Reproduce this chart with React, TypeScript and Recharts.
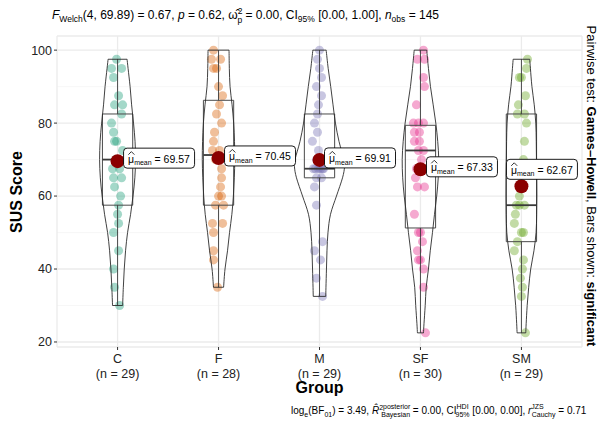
import { CartesianGrid, ComposedChart, Scatter, XAxis, YAxis } from "recharts";

const groups = ["C", "F", "M", "SF", "SM"];
const groupN = [29, 28, 29, 30, 29];
const groupColors = ["#1B9E77", "#D95F02", "#7570B3", "#E7298A", "#66A61E"];
const means = [69.57, 70.45, 69.91, 67.33, 62.67];
const yTicks = [20, 40, 60, 80, 100];
const yMinor = [30, 50, 70, 90];

// SUS scores per group
const scoresC = [97.5, 95, 95, 92.5, 87.5, 85, 85, 82.5, 80, 77.5, 75, 75, 72.5, 70, 70, 67.5, 67.5, 65, 65, 62.5, 60, 57.5, 55, 52.5, 50, 45, 40, 35, 30];
const scoresF = [100, 97.5, 97.5, 95, 95, 90, 87.5, 85, 82.5, 80, 77.5, 75, 72.5, 72.5, 70, 67.5, 65, 62.5, 60, 60, 57.5, 57.5, 52.5, 52.5, 50, 45, 42.5, 35];
const scoresM = [100, 97.5, 95, 92.5, 90, 87.5, 85, 82.5, 80, 77.5, 75, 72.5, 70, 70, 67.5, 67.5, 67.5, 67.5, 67.5, 67.5, 65, 65, 62.5, 57.5, 47.5, 45, 42.5, 37.5, 32.5];
const scoresSF = [100, 97.5, 97.5, 92.5, 90, 85, 80, 80, 80, 77.5, 77.5, 75, 75, 72.5, 72.5, 70, 67.5, 65, 62.5, 62.5, 55, 50, 50, 47.5, 45, 42.5, 42.5, 40, 35, 22.5];
const scoresSM = [97.5, 95, 92.5, 92.5, 87.5, 85, 82.5, 82.5, 80, 75, 70, 67.5, 62.5, 60, 57.5, 57.5, 57.5, 55, 52.5, 50, 50, 47.5, 45, 42.5, 40, 37.5, 35, 32.5, 22.5];

// horizontal jitter of each dot (category units)
const jitterC = [-0.01, -0.06, 0.04, -0.04, 0.01, -0.03, 0.05, 0.04, -0.06, -0.04, -0.03, -0.01, 0.05, 0, -0.02, 0.02, -0.05, -0.04, 0.04, -0.03, 0.03, 0.01, 0, 0.01, -0.04, 0.01, -0.04, -0.03, 0.02];
const jitterF = [-0.05, -0.07, 0.02, -0.05, -0.02, 0, 0.04, 0.01, -0.02, 0.03, -0.04, -0.05, -0.06, 0.01, -0.03, 0.03, 0.03, 0.02, 0, 0.03, -0.03, 0.05, -0.06, 0.04, -0.05, -0.05, -0.05, -0.01];
const jitterM = [0, -0.02, 0, 0.02, -0.03, 0.02, -0.01, -0.02, -0.05, -0.02, -0.07, -0.01, 0.02, -0.03, 0.03, -0.01, -0.04, 0.01, -0.06, 0.04, 0.02, -0.03, -0.05, -0.03, 0.03, -0.05, 0.01, -0.03, 0.03];
const jitterSF = [0.03, -0.03, 0.04, 0.03, 0.04, -0.04, -0.07, -0.02, 0.03, -0.06, -0.01, -0.06, -0.01, -0.02, 0.03, 0.01, -0.04, -0.05, 0.04, -0.03, -0.06, -0.02, 0, 0.02, -0.03, -0.02, 0, 0.03, 0.03, 0.05];
const jitterSM = [0.06, 0.05, -0.02, 0, 0.04, -0.03, -0.04, 0.03, 0.05, 0.03, 0.02, 0.02, 0, -0.02, -0.02, 0.03, -0.05, -0.06, -0.07, 0, 0.02, -0.04, -0.07, 0.02, 0.01, -0.01, 0.01, 0, 0.04];

// box stats: [lower whisker, q1, median, q3, upper whisker]
const boxC = [30, 57.5, 70, 82.5, 97.5];
const boxF = [35, 57.5, 71.25, 86.25, 100];
const boxM = [32.5, 65, 67.5, 82.5, 100];
const boxSF = [22.5, 51.25, 72.5, 79.4, 100];
const boxSM = [22.5, 47.5, 57.5, 82.5, 97.5];

// violin outline: score levels and half width (category units)
const levelsC = [30, 35, 40, 45, 50, 55, 60, 65, 70, 75, 80, 85, 90, 95, 97.5];
const widthC = [0.05, 0.057, 0.066, 0.079, 0.099, 0.129, 0.153, 0.171, 0.178, 0.173, 0.158, 0.139, 0.124, 0.104, 0.094];
const levelsF = [35, 40, 45, 50, 55, 60, 65, 70, 75, 80, 85, 90, 95, 100];
const widthF = [0.05, 0.064, 0.089, 0.109, 0.132, 0.147, 0.156, 0.161, 0.158, 0.15, 0.134, 0.114, 0.107, 0.104];
const levelsM = [32.5, 35, 40, 45, 50, 55, 60, 65, 68, 70, 75, 80, 85, 90, 95, 100];
const widthM = [0.062, 0.064, 0.069, 0.074, 0.084, 0.109, 0.168, 0.228, 0.248, 0.243, 0.193, 0.158, 0.134, 0.111, 0.086, 0.066];
const levelsSF = [22.5, 25, 30, 35, 40, 45, 50, 55, 60, 65, 70, 75, 80, 85, 90, 95, 100];
const widthSF = [0.03, 0.035, 0.047, 0.057, 0.079, 0.097, 0.119, 0.139, 0.161, 0.176, 0.181, 0.171, 0.152, 0.126, 0.099, 0.079, 0.062];
const levelsSM = [22.5, 25, 30, 35, 40, 45, 50, 55, 60, 65, 70, 75, 80, 85, 90, 95, 97.5];
const widthSM = [0.043, 0.047, 0.057, 0.072, 0.092, 0.124, 0.145, 0.151, 0.153, 0.152, 0.149, 0.147, 0.142, 0.127, 0.104, 0.089, 0.082];

const scores = [scoresC, scoresF, scoresM, scoresSF, scoresSM];
const jitters = [jitterC, jitterF, jitterM, jitterSF, jitterSM];
const boxes = [boxC, boxF, boxM, boxSF, boxSM];
const levels = [levelsC, levelsF, levelsM, levelsSF, levelsSM];
const widths = [widthC, widthF, widthM, widthSF, widthSM];

const FONT = "'Liberation Sans', Arial, Helvetica, sans-serif";
const BOX_HALF = 0.15;
const labelNudge = [[6, -3], [6, -2], [5, -2], [6, -2.5], [-15, -17]];

const noShape = () => <g />;

const curveThrough = (pts: { x: number; y: number }[]) => {
    let d = "";
    for (let i = 0; i < pts.length - 1; i++) {
        const p0 = pts[i - 1] || pts[i];
        const p1 = pts[i];
        const p2 = pts[i + 1];
        const p3 = pts[i + 2] || p2;
        d += ` C${p1.x + (p2.x - p0.x) / 6},${p1.y + (p2.y - p0.y) / 6} ${p2.x - (p3.x - p1.x) / 6},${p2.y - (p3.y - p1.y) / 6} ${p2.x},${p2.y}`;
    }
    return d;
};

const violinLine = (props: any) => {
    const pts = props.points;
    const half = pts.length / 2;
    const right = pts.slice(0, half);
    const left = pts.slice(half);
    const d = `M${right[0].x},${right[0].y}` + curveThrough(right) + ` L${left[0].x},${left[0].y}` + curveThrough(left) + " Z";
    return <path d={d} fill="none" stroke="#2b2b2b" strokeWidth={0.9} />;
};

const straightLine = (stroke: string, width: number) => (props: any) => (
    <path
        d={"M" + props.points.map((p: any) => `${p.x},${p.y}`).join(" L")}
        fill="none"
        stroke={stroke}
        strokeWidth={width}
    />
);

const MeanDot = (props: any) => {
    const { cx, cy, payload } = props;
    const [dx, dy] = labelNudge[payload.i];
    const lx = cx + dx;
    const ly = cy + dy;
    return (
        <g>
            <circle cx={cx} cy={cy} r={7} fill="#8B0000" />
            <rect x={lx} y={ly - 10} width={71} height={20} rx={3.5} fill="#fff" stroke="#000" strokeWidth={0.9} />
            <path d={`M${lx + 4.8},${ly - 3.5} L${lx + 7.8},${ly - 6.5} L${lx + 10.8},${ly - 3.5}`} fill="none" stroke="#000" strokeWidth={0.8} />
            <text x={lx + 4.5} y={ly + 4.5} fontSize={10.5} fontFamily={FONT} fill="#000">
                <tspan>μ</tspan>
                <tspan fontSize={7} dy={2.5}>mean</tspan>
                <tspan dy={-2.5}> = {payload.y.toFixed(2)}</tspan>
            </text>
        </g>
    );
};

const GroupTick = (props: any) => {
    const { x, y, payload } = props;
    const i = payload.value - 1;
    return (
        <text x={x} y={y} textAnchor="middle" fontSize={12.5} fontFamily={FONT} fill="#222">
            <tspan x={x} dy={11}>{groups[i]}</tspan>
            <tspan x={x} dy={14.5}>(n = {groupN[i]})</tspan>
        </text>
    );
};

export default function App() {
    const outlines: React.ReactNode[] = [];
    groups.forEach((_, gi) => {
        const g = gi + 1;
        const [lo, q1, med, q3, hi] = boxes[gi];
        const violin = [
            ...levels[gi].map((v, k) => ({ x: g + widths[gi][k], y: v })),
            ...levels[gi].map((v, k) => ({ x: g - widths[gi][k], y: v })).reverse(),
        ];
        const rect = [
            { x: g - BOX_HALF, y: q1 },
            { x: g + BOX_HALF, y: q1 },
            { x: g + BOX_HALF, y: q3 },
            { x: g - BOX_HALF, y: q3 },
            { x: g - BOX_HALF, y: q1 },
        ];
        const segs = [
            { d: [{ x: g, y: q3 }, { x: g, y: hi }], w: 0.9 },
            { d: [{ x: g, y: lo }, { x: g, y: q1 }], w: 0.9 },
            { d: [{ x: g - BOX_HALF, y: med }, { x: g + BOX_HALF, y: med }], w: 1.8 },
        ];
        outlines.push(
            <Scatter key={`box${g}`} data={rect} dataKey="y" line={straightLine("#4a4a4a", 1)} lineType="joint" shape={noShape} isAnimationActive={false} legendType="none" />
        );
        segs.forEach((s, k) =>
            outlines.push(
                <Scatter key={`seg${g}-${k}`} data={s.d} dataKey="y" line={straightLine("#3a3a3a", s.w)} lineType="joint" shape={noShape} isAnimationActive={false} legendType="none" />
            )
        );
        outlines.push(
            <Scatter key={`vio${g}`} data={violin} dataKey="y" line={violinLine} lineType="joint" shape={noShape} isAnimationActive={false} legendType="none" />
        );
    });

    const meanData = means.map((m, i) => ({ x: i + 1, y: m, i }));

    return (
        <div style={{ position: "absolute", left: 0, top: 0, width: 598, height: 425, background: "#fff" }}>
            <ComposedChart width={598} height={425} margin={{ top: 36, right: 16, bottom: 48, left: 12 }}>
                <CartesianGrid stroke="#F3F3F3" strokeWidth={0.7} vertical={false} horizontalValues={yMinor} />
                <CartesianGrid stroke="#EBEBEB" strokeWidth={1.3} />
                <XAxis
                    type="number"
                    dataKey="x"
                    domain={[0.4, 5.6]}
                    ticks={[1, 2, 3, 4, 5]}
                    allowDataOverflow
                    axisLine={false}
                    tickSize={3}
                    tickLine={{ stroke: "#333" }}
                    tick={<GroupTick />}
                    height={30}
                />
                <YAxis
                    type="number"
                    dataKey="y"
                    domain={[18.625, 103.875]}
                    ticks={yTicks}
                    allowDataOverflow
                    axisLine={false}
                    tickSize={3}
                    tickLine={{ stroke: "#333" }}
                    tick={{ fontSize: 12.5, fill: "#222", fontFamily: FONT }}
                    width={45}
                />
                {groups.map((name, gi) => (
                    <Scatter
                        key={`pts${name}`}
                        data={scores[gi].map((v, k) => ({ x: gi + 1 + jitters[gi][k], y: v }))}
                        dataKey="y"
                        isAnimationActive={false}
                        legendType="none"
                        shape={(p: any) => <circle cx={p.cx} cy={p.cy} r={4.5} fill={groupColors[gi]} fillOpacity={0.4} />}
                    />
                ))}
                {outlines}
                <Scatter data={meanData} dataKey="y" isAnimationActive={false} legendType="none" shape={<MeanDot />} />
            </ComposedChart>

            <svg width={598} height={425} style={{ position: "absolute", left: 0, top: 0, pointerEvents: "none" }} fontFamily={FONT}>
                <text x={52} y={19} fontSize={12} fill="#000">
                    <tspan fontStyle="italic">F</tspan>
                    <tspan fontSize={8.5} dy={3}>Welch</tspan>
                    <tspan dy={-3}>(4, 69.89) = 0.67, </tspan>
                    <tspan fontStyle="italic">p</tspan>
                    <tspan> = 0.62, ω̂</tspan>
                    <tspan fontSize={8.5} dy={-5}>2</tspan>
                    <tspan fontSize={8.5} dx={-5} dy={9}>p</tspan>
                    <tspan dy={-4}> = 0.00, CI</tspan>
                    <tspan fontSize={8.5} dy={3}>95%</tspan>
                    <tspan dy={-3}> [0.00, 1.00], </tspan>
                    <tspan fontStyle="italic">n</tspan>
                    <tspan fontSize={8.5} dy={3}>obs</tspan>
                    <tspan dy={-3}> = 145</tspan>
                </text>

                <text transform="translate(22,192) rotate(-90)" textAnchor="middle" fontSize={16} fontWeight="bold" fill="#000">
                    SUS Score
                </text>
                <text x={319.5} y={393} textAnchor="middle" fontSize={16} fontWeight="bold" fill="#000">
                    Group
                </text>

                <text transform="translate(587,186) rotate(90)" textAnchor="middle" fontSize={13} fill="#000">
                    <tspan>Pairwise test: </tspan>
                    <tspan fontWeight="bold">Games–Howell</tspan>
                    <tspan>, Bars shown: </tspan>
                    <tspan fontWeight="bold">significant</tspan>
                </text>

                <text x={291} y={414} fontSize={10} fill="#000">
                    <tspan>log</tspan>
                    <tspan fontSize={7} dy={2.5}>e</tspan>
                    <tspan dy={-2.5}>(BF</tspan>
                    <tspan fontSize={7} dy={2.5}>01</tspan>
                    <tspan dy={-2.5}>) = 3.49, </tspan>
                    <tspan fontStyle="italic">R̂</tspan>
                    <tspan fontSize={7} dy={-4}>2</tspan>
                    <tspan fontSize={7} dy={-1}>posterior</tspan>
                    <tspan fontSize={7} dx={-29} dy={8}>Bayesian</tspan>
                    <tspan dy={-3}> = 0.00, CI</tspan>
                    <tspan fontSize={7} dy={-5}>HDI</tspan>
                    <tspan fontSize={7} dx={-13} dy={8}>95%</tspan>
                    <tspan dy={-3}> [0.00, 0.00], </tspan>
                    <tspan fontStyle="italic">r</tspan>
                    <tspan fontSize={7} dy={-5}>JZS</tspan>
                    <tspan fontSize={7} dx={-12} dy={8}>Cauchy</tspan>
                    <tspan dy={-3}> = 0.71</tspan>
                </text>
            </svg>
        </div>
    );
}
